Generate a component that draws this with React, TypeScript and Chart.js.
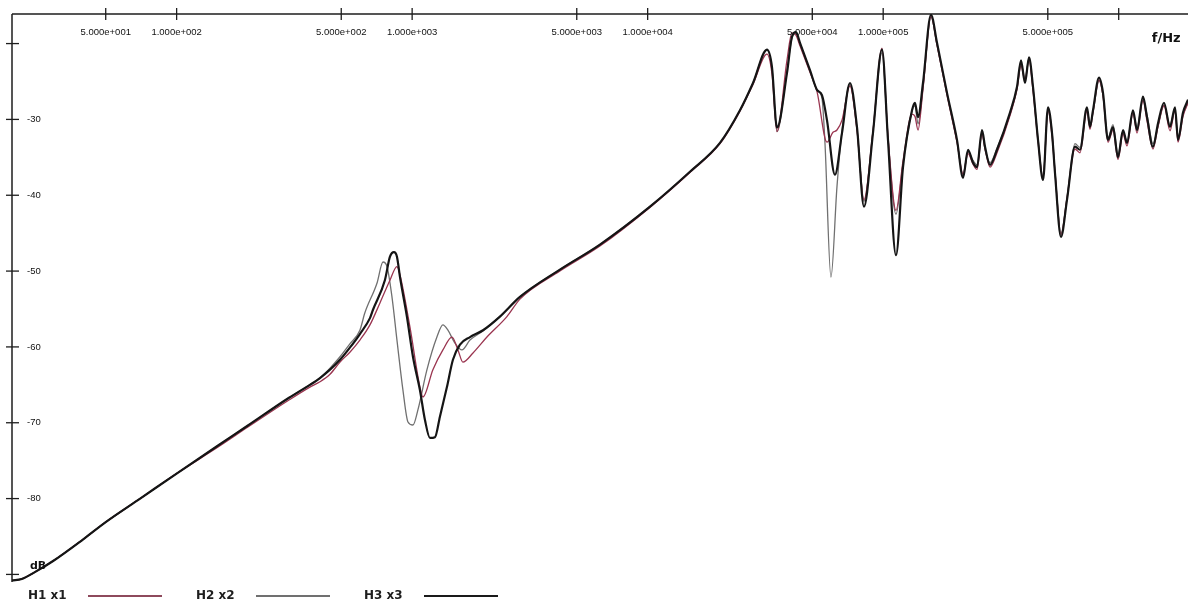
import React, { useEffect, useRef } from "react";
import { Chart, registerables } from "chart.js";

Chart.register(...registerables);

// ---- labels / ticks ----
const seriesLabels = ["H1 x1", "H2 x2", "H3 x3"];
const xTickValues = [50, 100, 500, 1000, 5000, 10000, 50000, 100000, 500000, 1000000];
const xTickLabels = [
  "5.000e+001", "1.000e+002", "5.000e+002", "1.000e+003", "5.000e+003",
  "1.000e+004", "5.000e+004", "1.000e+005", "5.000e+005", "",
];
const yTickValues = [-20, -30, -40, -50, -60, -70, -80, -90];
const yTickLabels = ["", "-30", "-40", "-50", "-60", "-70", "-80", ""];
const xUnit = "f/Hz";
const yUnit = "dB";

// ---- H3 x3 (black) ----
const h3Freq = [
  20, 22, 25, 30, 40, 50, 70, 100, 150, 200, 300,
  368, 406, 448, 494, 544, 600, 662, 682, 766, 805, 837, 862, 888, 950, 1008, 1079, 1133, 1190, 1250, 1312, 1405, 1490, 1596, 1760, 1999, 2359, 2869,
  4242, 6272, 10228, 15117, 20277,
  24652, 28007, 32112, 33717, 35401, 39038, 40995, 42633, 44334, 48891, 52340, 54963, 57724, 62410, 66848, 72277, 77389, 82882, 90498, 98830,
  104810, 113336, 121385, 132560, 136458, 140560, 147571, 159588, 169257, 186639,
  205787, 218260, 229200, 240656, 250264, 262798, 270660, 284215, 304258, 345490,
  370043, 384727, 400064, 416036, 432650, 454321, 477170, 501010, 521023, 536480,
  568853, 603263, 652130, 684914, 733403, 755172, 777756, 825012, 857758, 900867,
  945935, 993116, 1043050, 1084400, 1150000, 1196000, 1268000, 1319000, 1398000, 1469000,
  1557000, 1651000, 1734000, 1786000, 1875000, 1970000,
];
const h3Db = [
  -90.8, -90.6, -89.7, -88.2, -85.4, -83.1, -80.0, -76.7, -73.0, -70.4, -66.7,
  -65.0, -64.1, -63.0, -61.7, -60.1, -58.3, -56.2, -55.1, -51.2, -48.1, -47.5, -48.1, -50.8, -56.0, -61.3, -65.7, -69.6, -72.0, -71.9, -69.2, -65.3, -61.7, -59.7, -58.7, -57.8, -56.0, -53.4,
  -49.8, -46.5, -41.5, -36.9, -33.1,
  -28.8, -25.2, -20.8, -23.1, -31.1, -23.9, -19.1, -18.5, -19.9, -23.5, -26.1, -26.8, -30.1, -37.3, -31.8, -25.2, -31.0, -41.5, -31.8, -20.8,
  -32.7, -47.9, -36.3, -28.8, -27.8, -29.7, -25.2, -16.2, -19.9, -26.5,
  -32.7, -37.7, -34.0, -35.7, -36.3, -31.4, -33.6, -36.0, -34.0, -29.1,
  -25.7, -22.2, -25.2, -21.8, -25.7, -32.7, -38.0, -28.4, -31.8, -37.1,
  -45.5, -40.6, -33.6, -34.0, -28.4, -31.0, -28.8, -24.5, -26.5, -32.7,
  -31.0, -35.0, -31.4, -33.1, -28.8, -31.4, -27.0, -29.7, -33.6, -30.5,
  -27.8, -31.0, -28.4, -32.7, -29.1, -27.4,
];

// ---- H2 x2 (grey) ----
const h2Freq = [
  20, 22, 25, 30, 40, 50, 70, 100, 150, 200, 300, 368, 406, 448, 494,
  544, 600, 630, 709, 752, 782, 821, 862, 914, 960, 1008, 1058, 1156, 1274, 1351, 1419, 1520, 1627, 1760, 1999, 2359, 2869,
  4242, 6272, 10228, 15117, 20277, 24652, 28007, 32112, 33717, 35401,
  39038, 40995, 42633, 44334, 48891, 52340, 54963, 56604, 60014, 63645,
  66848, 72277, 77389, 82882, 90498, 98830, 104810, 113336, 121385, 132560,
  136458, 140560, 147571, 159588, 169257, 186639, 205787, 218260, 229200, 240656,
  250264, 262798, 270660, 284215, 304258, 345490, 370043, 384727, 400064, 416036,
  432650, 454321, 477170, 501010, 521023, 536480, 568853, 603263, 652130, 684914,
  733403, 755172, 777756, 825012, 857758, 900867, 945935, 993116, 1043050, 1084400,
  1150000, 1196000, 1268000, 1319000, 1398000, 1469000, 1557000, 1651000, 1734000, 1786000,
  1875000, 1970000,
];
const h2Db = [
  -90.8, -90.6, -89.7, -88.2, -85.4, -83.1, -80.0, -76.7, -73.0, -70.4, -66.7, -65.0, -64.1, -62.8, -61.3,
  -59.6, -57.8, -55.5, -51.6, -48.8, -49.4, -53.4, -59.1, -65.7, -69.9, -70.3, -68.3, -63.0, -58.7, -57.1, -57.8, -59.5, -60.4, -59.1, -57.9, -56.0, -53.4,
  -49.8, -46.5, -41.5, -36.9, -33.1, -28.8, -25.2, -20.9, -23.3, -31.6,
  -23.6, -19.3, -18.7, -20.0, -23.6, -26.1, -27.2, -33.1, -50.8, -38.9,
  -31.5, -25.4, -31.2, -40.8, -31.6, -21.2, -32.4, -42.5, -35.8, -28.9,
  -28.2, -30.6, -25.8, -16.5, -20.1, -26.6, -32.9, -37.3, -34.3, -35.4,
  -36.0, -31.7, -33.9, -35.7, -33.8, -29.3, -25.9, -22.6, -24.6, -22.0,
  -25.9, -32.5, -37.6, -28.6, -31.6, -36.8, -45.0, -40.3, -33.2, -33.7,
  -28.7, -30.6, -29.1, -24.9, -26.8, -32.4, -30.7, -34.6, -31.7, -32.8,
  -29.2, -31.0, -27.4, -29.4, -33.2, -30.9, -28.1, -30.7, -28.8, -32.3,
  -29.4, -27.8,
];

// ---- H1 x1 (maroon) ----
const h1Freq = [
  20, 22, 25, 30, 40, 50, 70, 100, 150, 200, 300, 368, 406, 448, 494,
  544, 600, 662, 730, 805, 862, 888, 979, 1079, 1111, 1225, 1351, 1476, 1565, 1643, 1813, 2078, 2526, 2869,
  4242, 6272, 10228, 15117, 20277, 24652, 28007, 32112, 33717, 35401,
  39038, 40995, 42633, 44334, 48891, 52340, 57724, 61201, 63645, 66848,
  72277, 77389, 82882, 90498, 98830, 104810, 113336, 121385, 132560, 136458,
  140560, 147571, 159588, 169257, 186639, 205787, 218260, 229200, 240656, 250264,
  262798, 270660, 284215, 304258, 345490, 370043, 384727, 400064, 416036, 432650,
  454321, 477170, 501010, 521023, 536480, 568853, 603263, 652130, 684914, 733403,
  755172, 777756, 825012, 857758, 900867, 945935, 993116, 1043050, 1084400, 1150000,
  1196000, 1268000, 1319000, 1398000, 1469000, 1557000, 1651000, 1734000, 1786000, 1875000,
  1970000,
];
const h1Db = [
  -90.8, -90.6, -89.7, -88.2, -85.4, -83.1, -80.0, -76.7, -73.2, -70.6, -67.0, -65.3, -64.6, -63.6, -62.0,
  -60.7, -59.1, -57.1, -54.2, -51.2, -49.4, -50.5, -57.4, -65.3, -66.6, -63.0, -60.4, -58.7, -60.4, -62.0, -60.8, -58.7, -56.0, -53.7,
  -50.0, -46.7, -41.6, -37.0, -33.2, -28.9, -25.4, -21.4, -24.0, -31.6,
  -22.2, -18.6, -18.9, -20.3, -23.8, -26.3, -33.0, -31.7, -31.4, -30.1,
  -25.6, -31.4, -40.6, -31.5, -20.6, -32.2, -42.0, -35.5, -29.3, -29.6,
  -31.4, -26.0, -16.4, -20.2, -26.8, -33.0, -37.2, -34.5, -35.9, -36.6,
  -31.9, -33.9, -36.3, -34.4, -29.5, -26.0, -22.9, -24.9, -22.1, -26.2,
  -32.9, -37.7, -28.9, -32.2, -37.0, -45.2, -40.4, -33.9, -34.4, -28.9,
  -31.3, -29.0, -24.8, -26.9, -33.0, -31.4, -35.3, -31.9, -33.5, -29.2,
  -31.8, -27.5, -30.2, -33.9, -30.9, -28.2, -31.5, -28.8, -33.0, -29.6,
  -27.8,
];

const X_MIN = 20;
const X_MAX = 2000000;
const Y_MIN = -91;
const Y_MAX = -16.1;

function toPoints(fs: number[], ds: number[]) {
  return fs.map((f, i) => ({ x: f, y: ds[i] }));
}

const scanAxes = {
  id: "scanAxes",
  afterDraw(chart: any) {
    const { ctx, chartArea, scales } = chart;
    const xs = scales.x;
    const ys = scales.y;
    const L = chartArea.left;
    const T = chartArea.top;
    ctx.save();
    ctx.strokeStyle = "#1e1e1e";
    ctx.lineWidth = 1.5;
    ctx.beginPath();
    ctx.moveTo(L, T);
    ctx.lineTo(chart.width, T);
    ctx.moveTo(L, T);
    ctx.lineTo(L, chartArea.bottom);
    ctx.stroke();

    ctx.lineWidth = 1.3;
    ctx.fillStyle = "#111";
    ctx.font = '9.5px "Liberation Sans", Arial, sans-serif';
    ctx.textAlign = "center";
    ctx.textBaseline = "middle";
    xTickValues.forEach((v, i) => {
      const px = xs.getPixelForValue(v);
      ctx.beginPath();
      ctx.moveTo(px, T - 6);
      ctx.lineTo(px, T + 6);
      ctx.stroke();
      if (xTickLabels[i]) ctx.fillText(xTickLabels[i], px, T + 18);
    });

    ctx.textAlign = "left";
    yTickValues.forEach((v, i) => {
      const py = ys.getPixelForValue(v);
      ctx.beginPath();
      ctx.moveTo(L - 6, py);
      ctx.lineTo(L + 7, py);
      ctx.stroke();
      if (yTickLabels[i]) ctx.fillText(yTickLabels[i], L + 15, py);
    });

    // axis units
    ctx.font = 'bold 11px "DejaVu Sans", Arial, sans-serif';
    ctx.fillText(yUnit, L + 18, ys.getPixelForValue(-90) - 8);
    ctx.font = 'bold 13px "DejaVu Sans", Arial, sans-serif';
    ctx.textAlign = "right";
    ctx.fillText(xUnit, chartArea.right - 9, T + 25);

    // legend
    ctx.textAlign = "left";
    ctx.font = 'bold 12px "DejaVu Sans", Arial, sans-serif';
    const ly = chartArea.bottom + 14;
    chart.data.datasets.forEach((ds: any, i: number) => {
      const tx = 28 + i * 168;
      ctx.fillStyle = "#1e1e1e";
      ctx.fillText(ds.label, tx, ly);
      ctx.strokeStyle = ds.legendColor;
      ctx.lineWidth = 1.8;
      ctx.beginPath();
      ctx.moveTo(tx + 60, ly);
      ctx.lineTo(tx + 134, ly);
      ctx.stroke();
    });
    ctx.restore();
  },
};

export default function App() {
  const ref = useRef<HTMLCanvasElement | null>(null);
  useEffect(() => {
    if (!ref.current) return;
    const chart = new Chart(ref.current, {
      type: "line",
      data: {
        datasets: [
          {
            label: seriesLabels[0],
            data: toPoints(h1Freq, h1Db),
            borderColor: "#9a3550",
            legendColor: "#8e4a5c",
            borderWidth: 1.3,
            pointRadius: 0,
            cubicInterpolationMode: "monotone",
            order: 1,
          } as any,
          {
            label: seriesLabels[1],
            data: toPoints(h2Freq, h2Db),
            borderColor: "#707070",
            legendColor: "#707070",
            borderWidth: 1.3,
            pointRadius: 0,
            cubicInterpolationMode: "monotone",
            order: 2,
          } as any,
          {
            label: seriesLabels[2],
            data: toPoints(h3Freq, h3Db),
            borderColor: "#151515",
            legendColor: "#1a1a1a",
            borderWidth: 2.2,
            pointRadius: 0,
            cubicInterpolationMode: "monotone",
            order: 0,
          } as any,
        ],
      },
      options: {
        animation: false,
        responsive: false,
        devicePixelRatio: 1,
        parsing: false as any,
        layout: { padding: { left: 12, top: 14, right: 2.4, bottom: 19 } },
        plugins: { legend: { display: false }, tooltip: { enabled: false } },
        scales: {
          x: { type: "logarithmic", min: X_MIN, max: X_MAX, display: false },
          y: { type: "linear", min: Y_MIN, max: Y_MAX, display: false },
        },
      },
      plugins: [scanAxes],
    });
    return () => chart.destroy();
  }, []);
  return (
    <div
      style={{
        position: "fixed",
        left: 0,
        top: 0,
        width: 1188,
        height: 601,
        overflow: "hidden",
        background: "#fff",
      }}
    >
      <canvas ref={ref} width={1192} height={601} style={{ display: "block" }} />
    </div>
  );
}
